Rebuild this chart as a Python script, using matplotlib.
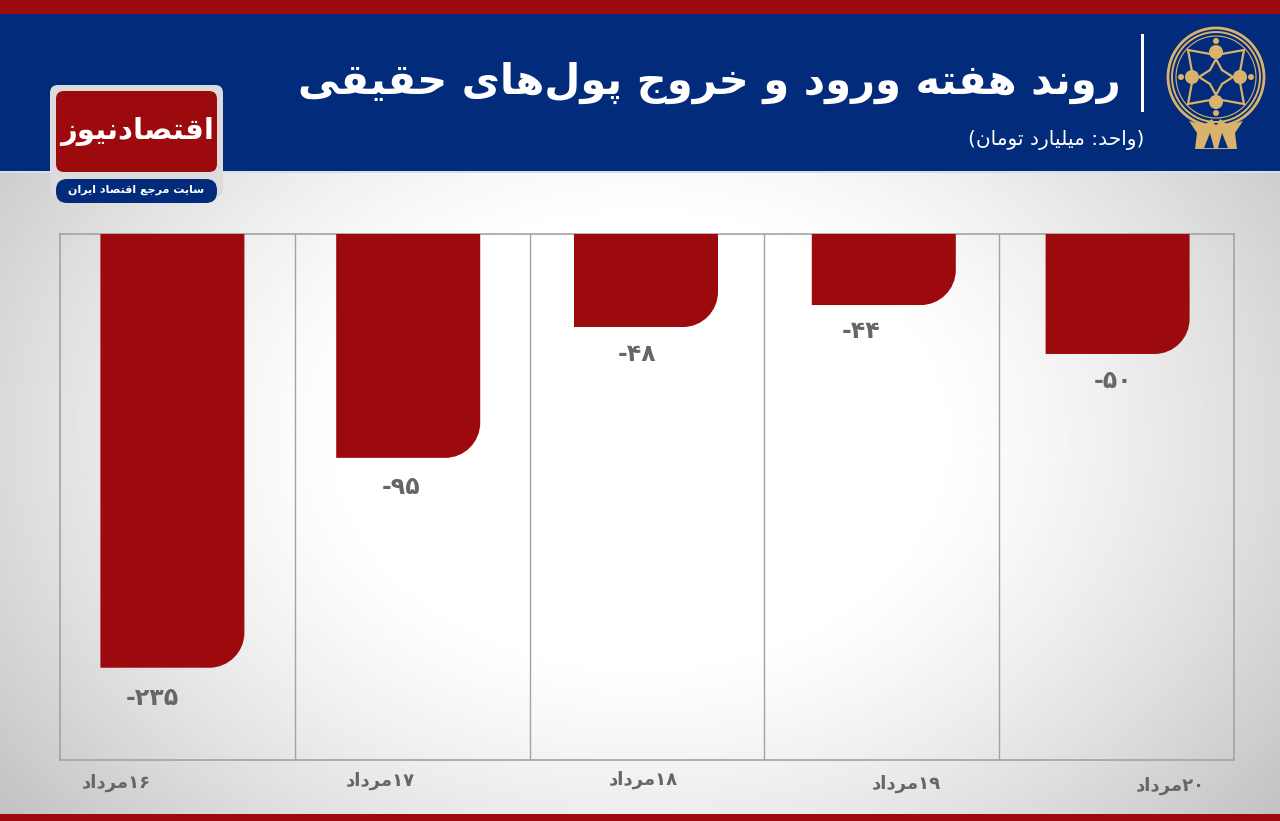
import numpy as np
import matplotlib
matplotlib.use("Agg")
import matplotlib.pyplot as plt
from matplotlib.patches import PathPatch, Rectangle, FancyBboxPatch, Ellipse, Polygon, Circle
from matplotlib.path import Path

plt.rcParams['font.family'] = ['DejaVu Sans']

# data
title = "روند هفته ورود و خروج پول\u200cهای حقیقی"
unit = "(واحد: میلیارد تومان)"
logo_name = "اقتصادنیوز"
logo_sub = "سایت مرجع اقتصاد ایران"
days = ["۱۶", "۱۷", "۱۸", "۱۹", "۲۰"]
month = "مرداد"
value_labels = ["-۲۳۵", "-۹۵", "-۴۸", "-۴۴", "-۵۰"]
# the bars in the picture are not to scale with their printed values,
# so the drawn lengths are read off separately
bar_lengths = [-235, -121.3, -50.4, -38.5, -65]

# isolated, final, initial, medial forms of the letters used above
FORMS = {
    'ا': (0xFE8D, 0xFE8E), 'پ': (0xFB56, 0xFB57, 0xFB58, 0xFB59),
    'ب': (0xFE8F, 0xFE90, 0xFE91, 0xFE92), 'ت': (0xFE95, 0xFE96, 0xFE97, 0xFE98),
    'ج': (0xFE9D, 0xFE9E, 0xFE9F, 0xFEA0), 'ح': (0xFEA1, 0xFEA2, 0xFEA3, 0xFEA4),
    'خ': (0xFEA5, 0xFEA6, 0xFEA7, 0xFEA8), 'د': (0xFEA9, 0xFEAA),
    'ر': (0xFEAD, 0xFEAE), 'ز': (0xFEAF, 0xFEB0),
    'س': (0xFEB1, 0xFEB2, 0xFEB3, 0xFEB4), 'ص': (0xFEB9, 0xFEBA, 0xFEBB, 0xFEBC),
    'ع': (0xFEC9, 0xFECA, 0xFECB, 0xFECC), 'ف': (0xFED1, 0xFED2, 0xFED3, 0xFED4),
    'ق': (0xFED5, 0xFED6, 0xFED7, 0xFED8), 'ل': (0xFEDD, 0xFEDE, 0xFEDF, 0xFEE0),
    'م': (0xFEE1, 0xFEE2, 0xFEE3, 0xFEE4), 'ن': (0xFEE5, 0xFEE6, 0xFEE7, 0xFEE8),
    'ه': (0xFEE9, 0xFEEA, 0xFEEB, 0xFEEC), 'و': (0xFEED, 0xFEEE),
    'ی': (0xFBFC, 0xFBFD, 0xFBFE, 0xFBFF),
}


# matplotlib does no shaping, so pick the joined forms and flip to visual order
def fa(text):
    out = []
    for i, c in enumerate(text):
        if c == '\u200c':
            continue
        if c not in FORMS:
            out.append({'(': ')', ')': '('}.get(c, c))
            continue
        prev = text[i - 1] if i > 0 else ' '
        nxt = text[i + 1] if i + 1 < len(text) else ' '
        joins_prev = prev in FORMS and len(FORMS[prev]) == 4
        joins_next = nxt in FORMS and len(FORMS[c]) == 4
        if joins_prev and joins_next:
            out.append(chr(FORMS[c][3]))
        elif joins_next:
            out.append(chr(FORMS[c][2]))
        elif joins_prev:
            out.append(chr(FORMS[c][1]))
        else:
            out.append(chr(FORMS[c][0]))
    return ''.join(reversed(out))


RED = '#9c0a0e'
NAVY = '#022c7b'
GOLD = '#d9b36c'
GREY_TEXT = '#666666'

fig = plt.figure(figsize=(12.8, 8.21), dpi=100)

# backdrop in pixel coordinates
bg = fig.add_axes([0, 0, 1, 1], zorder=0)
bg.axis('off')
xx, yy = np.meshgrid(np.arange(0, 1280, 2), np.arange(0, 821, 2))
r = np.sqrt(((xx - 640) / 640) ** 2 + ((yy - 440) / 480) ** 2)
shade = 255 - 52 * np.clip((r - 0.45) / 0.72, 0, 1.2) ** 1.3
bg.imshow(shade, cmap='gray', vmin=0, vmax=255, extent=(0, 1280, 821, 0), aspect='auto', zorder=0)
bg.set_xlim(0, 1280)
bg.set_ylim(821, 0)
bg.add_patch(Rectangle((0, 0), 1280, 14, color=RED, lw=0, zorder=1))
bg.add_patch(Rectangle((0, 14), 1280, 157, color=NAVY, lw=0, zorder=1))
bg.add_patch(Rectangle((0, 171), 1280, 2, color='#d5deee', lw=0, zorder=1))
bg.add_patch(Rectangle((0, 814), 1280, 7, color=RED, lw=0, zorder=1))

# header text
bg.text(1121, 83, fa(title), color='white', fontsize=30, fontweight='bold', ha='right', va='center', zorder=3)
bg.add_patch(Rectangle((1140.5, 34), 3.5, 78, color='white', lw=0, zorder=3))
bg.text(1144, 140, fa(unit), color='white', fontsize=14.5, ha='right', va='center', zorder=3)

# news logo
bg.add_patch(FancyBboxPatch((50, 85), 173, 112, boxstyle="round,pad=0,rounding_size=8",
                            fc='#dcdcdc', ec='none', zorder=2))
bg.add_patch(FancyBboxPatch((56, 91), 161, 81, boxstyle="round,pad=0,rounding_size=8",
                            fc=RED, ec='none', zorder=3))
bg.add_patch(FancyBboxPatch((56, 179), 161, 24, boxstyle="round,pad=0,rounding_size=11",
                            fc=NAVY, ec='none', zorder=3))
bg.text(137, 132, fa(logo_name), color='white', fontsize=21, fontweight='bold', ha='center', va='center', zorder=4)
bg.text(136, 190, fa(logo_sub), color='white', fontsize=8, fontweight='bold', ha='center', va='center', zorder=4)

# emblem
cx, cy = 1216, 77
for rad, lw in [(48, 2.0), (44, 1.4), (40, 0.8)]:
    bg.add_patch(Ellipse((cx, cy), 2 * rad, 2 * rad + 2, fc='none', ec=GOLD, lw=lw, zorder=3))
outer = [(-28, -27), (0, -22), (28, -27), (23, 0), (28, 27), (0, 22), (-28, 27), (-23, 0), (-28, -27)]
inner = [(0, -18), (6, -7), (17, 0), (6, 7), (0, 18), (-6, 7), (-17, 0), (-6, -7), (0, -18)]
for shape in (outer, inner):
    bg.add_patch(Polygon([(cx + a, cy + b) for a, b in shape], closed=True, fc='none', ec=GOLD, lw=1.6, zorder=3))
for a, b, rad in [(0, -25, 7), (0, 25, 7), (-24, 0, 7), (24, 0, 7)]:
    bg.add_patch(Circle((cx + a, cy + b), rad, fc=GOLD, ec='none', zorder=3))
for a, b in [(0, -36), (0, 36), (-35, 0), (35, 0)]:
    bg.add_patch(Circle((cx + a, cy + b), 3, fc=GOLD, ec='none', zorder=3))
base = [(1189, 121), (1204, 125), (1212, 119), (1216, 127), (1220, 119), (1228, 125), (1243, 121),
        (1235, 133), (1237, 149), (1195, 149), (1197, 133)]
bg.add_patch(Polygon(base, closed=True, fc=GOLD, ec='none', zorder=3))
bg.add_patch(Polygon([(1204, 148), (1210, 133), (1214, 148)], closed=True, fc=NAVY, ec='none', zorder=4))
bg.add_patch(Polygon([(1218, 148), (1222, 133), (1228, 148)], closed=True, fc=NAVY, ec='none', zorder=4))

# chart area, 60..1234 by 234..760 px
ax = fig.add_axes([60 / 1280, 1 - 760 / 821, 1174 / 1280, 526 / 821], zorder=1)
ax.patch.set_alpha(0)
ax.set_xlim(0, 5)
ax.set_ylim(-285, 0)
ax.set_xticks(range(1, 5))
ax.set_yticks([])
ax.tick_params(length=0, labelbottom=False)
ax.grid(axis='x', color='#a3a3a3', lw=1)
ax.set_axisbelow(True)
for s in ax.spines.values():
    s.set_color('#a3a3a3')
    s.set_linewidth(1.2)

px_x = 5 / 1174
px_y = 285 / 526
bar_width = 144 * px_x
corner = 35
bar_shift = [-5, -4, -1, 2, 1]
label_shift = [-20, -7, -9, -23, -5]
label_drop = [30, 29, 27, 26, 27]
cat_pos = [(116, 783), (380, 781), (643, 780), (906, 784), (1170, 786)]
k = 0.45
for i, h in enumerate(bar_lengths):
    x0 = i + 0.5 + bar_shift[i] * px_x - bar_width / 2
    x1 = x0 + bar_width
    rx = corner * px_x
    ry = corner * px_y
    verts = [(x0, 0), (x1, 0), (x1, h + ry), (x1, h + ry * k), (x1 - rx * k, h), (x1 - rx, h), (x0, h), (x0, 0)]
    codes = [Path.MOVETO, Path.LINETO, Path.LINETO, Path.CURVE4, Path.CURVE4, Path.CURVE4, Path.LINETO, Path.CLOSEPOLY]
    ax.add_patch(PathPatch(Path(verts, codes), fc=RED, ec='none', zorder=3))
    ax.annotate(value_labels[i], (x0 + bar_width / 2, h), xytext=(label_shift[i], -label_drop[i]),
                textcoords='offset pixels', ha='center', va='center', color=GREY_TEXT,
                fontsize=17, fontweight='bold', annotation_clip=False)
    bg.text(cat_pos[i][0], cat_pos[i][1], fa(month) + days[i], color=GREY_TEXT, fontsize=13, fontweight='bold',
            ha='center', va='center', zorder=3)

fig.savefig('out.png', dpi=100)
